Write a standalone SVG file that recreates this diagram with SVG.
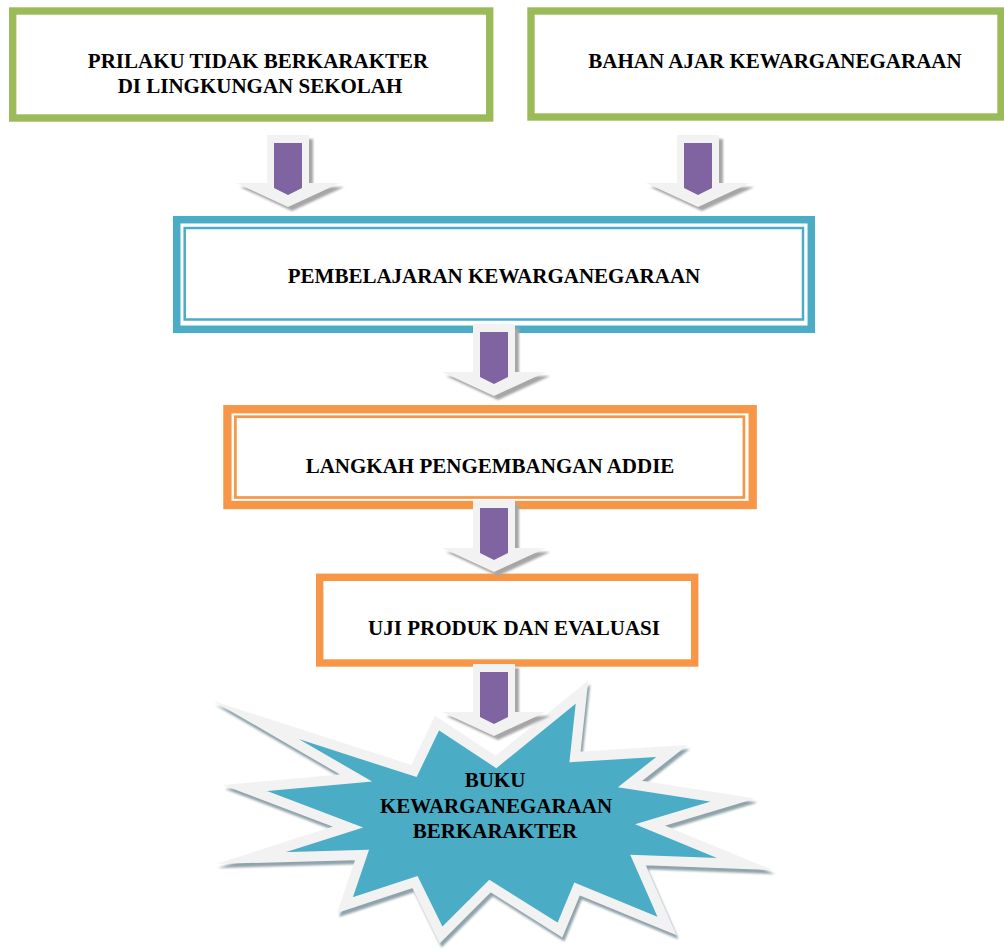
<svg xmlns="http://www.w3.org/2000/svg" width="1004" height="952" viewBox="0 0 1004 952">
<defs>
<style>
.lbl{font-family:"Liberation Serif","Times New Roman",serif;font-weight:bold;font-size:21px;fill:#000;text-anchor:middle}
.green{fill:#fff;stroke:#9bbb59;stroke-width:7.4}
.blueThick{fill:#fff;stroke:#4bacc6;stroke-width:7.5}
.blueThin{fill:none;stroke:#4bacc6;stroke-width:2.5}
.orThick{fill:#fff;stroke:#f79646;stroke-width:8.3}
.orThin{fill:none;stroke:#f79646;stroke-width:2.7}
.orSingle{fill:#fff;stroke:#f79646;stroke-width:7.4}
</style>
<filter id="blur" x="-20%" y="-20%" width="140%" height="140%"><feGaussianBlur stdDeviation="1.2"/></filter>
<g id="arrow">
<polygon points="-21,0 21,0 21,48 52,48 0,72 -52,48 -21,48" transform="translate(4,4)" fill="#a6a6a6" filter="url(#blur)"/>
<polygon points="-21,0 21,0 21,48 52,48 0,72 -52,48 -21,48" fill="#f2f2f2"/>
<polygon points="-14,8 14,8 14,53 0,60 -14,53" fill="#8064a2"/>
</g>
</defs>
<rect width="1004" height="952" fill="#fff"/>

<g id="node-prilaku">
<rect class="green" x="12.7" y="11" width="477" height="107"/>
<text class="lbl" x="258" y="68">PRILAKU TIDAK BERKARAKTER</text>
<text class="lbl" x="260" y="92.5">DI LINGKUNGAN SEKOLAH</text>
</g>

<g id="node-bahan">
<rect class="green" x="531" y="11" width="470" height="106"/>
<text class="lbl" x="775" y="68">BAHAN AJAR KEWARGANEGARAAN</text>
</g>

<g id="node-pembelajaran">
<rect class="blueThick" x="176.7" y="219.7" width="634.6" height="109.6"/>
<rect class="blueThin" x="184.7" y="228" width="618.3" height="91.5"/>
<text class="lbl" x="494" y="283">PEMBELAJARAN KEWARGANEGARAAN</text>
</g>

<g id="node-langkah">
<rect class="orThick" x="227.4" y="409.2" width="525.3" height="95.8"/>
<rect class="orThin" x="235.4" y="416.7" width="508.5" height="80.8"/>
<text class="lbl" x="490" y="473">LANGKAH PENGEMBANGAN ADDIE</text>
</g>

<g id="node-uji">
<rect class="orSingle" x="319.7" y="577.3" width="375" height="85.7"/>
<text class="lbl" x="514" y="635">UJI PRODUK DAN EVALUASI</text>
</g>

<g id="node-buku">
<polygon transform="translate(2,4)" filter="url(#blur)" fill="#8fa3aa" stroke="#8fa3aa" stroke-width="10" stroke-linejoin="miter" stroke-miterlimit="30" points="256,720 414,771 437,723 496,762 582,692 575,757 672,751 630,784 733,800 650,825 745,864 638,860 667,926 577,889 560,930 490,886 441,935 415,882 345,905 362,855 251,858 348,827 245,788 356,778"/>
<polygon fill="#4bacc6" stroke="#f2f2f2" stroke-width="10" stroke-linejoin="miter" stroke-miterlimit="30" points="256,720 414,771 437,723 496,762 582,692 575,757 672,751 630,784 733,800 650,825 745,864 638,860 667,926 577,889 560,930 490,886 441,935 415,882 345,905 362,855 251,858 348,827 245,788 356,778"/>
<text class="lbl" x="495" y="787">BUKU</text>
<text class="lbl" x="496" y="812.5">KEWARGANEGARAAN</text>
<text class="lbl" x="495" y="838">BERKARAKTER</text>
</g>

<g id="connectors">
<use href="#arrow" transform="translate(288,135)"/>
<use href="#arrow" transform="translate(698,135)"/>
<use href="#arrow" transform="translate(494,324)"/>
<use href="#arrow" transform="translate(494,500)"/>
<use href="#arrow" transform="translate(494,664)"/>
</g>
</svg>
